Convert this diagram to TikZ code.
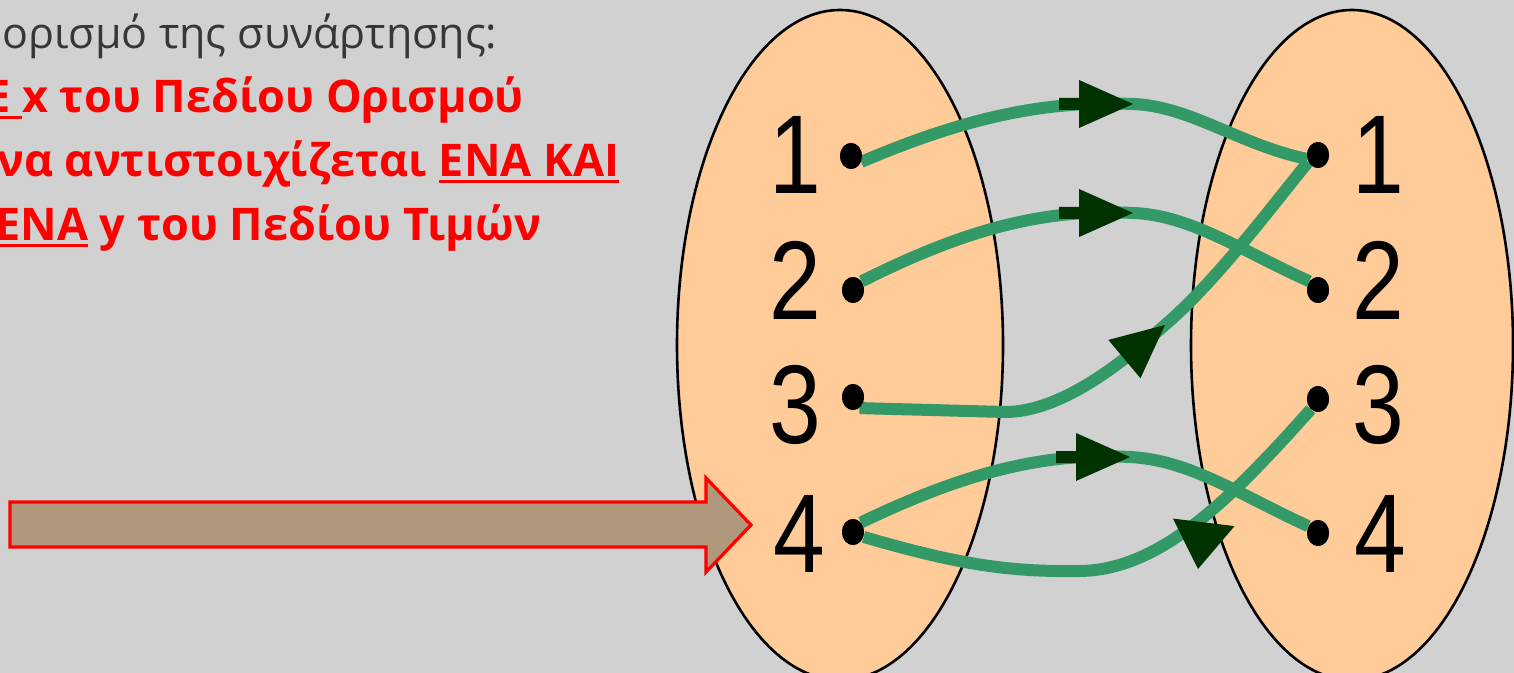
\documentclass[tikz,border=0pt]{standalone}
\usepackage{fontspec}
\usepackage{graphicx}
\setmainfont{Open Sans}
\newfontfamily\digitfont{Liberation Sans}
\usetikzlibrary{shapes.geometric}
\definecolor{bgcol}{RGB}{209,209,209}
\definecolor{peach}{RGB}{255,204,153}
\definecolor{lgreen}{RGB}{51,153,102}
\definecolor{dkgreen}{RGB}{0,51,0}
\definecolor{brownfill}{RGB}{176,152,124}
\definecolor{greytxt}{RGB}{58,54,54}
\definecolor{redtxt}{RGB}{255,0,0}
\newcommand\myul[1]{\setbox0\hbox{#1}\rlap{\color{redtxt}\rule[-2.8pt]{\wd0}{1.1pt}}\box0\relax}
\newcommand\dg[1]{\scalebox{0.83}[1]{#1}}
\tikzset{
  setshape/.style={fill=peach,draw=black,line width=1.3pt},
  dot/.style={ellipse,fill=black,inner sep=0pt,minimum width=11pt,minimum height=13pt},
  lbl/.style={anchor=base,inner sep=0pt,font=\digitfont\fontsize{56}{60}\selectfont},
  conn/.style={draw=lgreen,line width=6pt},
  gtext/.style={anchor=base west,inner sep=0pt,text=greytxt,font=\fontsize{21.5}{24}\selectfont},
  rtext/.style={anchor=base west,inner sep=0pt,text=redtxt,font=\bfseries\fontsize{22.5}{26}\selectfont},
  headh/.pic={\fill[dkgreen] (-37pt,-3pt) -- (-27pt,-3pt) -- (-27pt,-12pt) -- (0pt,0pt) -- (-27pt,12pt) -- (-27pt,3pt) -- (-37pt,3pt) -- cycle;},
  head/.pic={\fill[dkgreen] (-26.5pt,-12.5pt) -- (0pt,0pt) -- (-26.5pt,12.5pt) -- cycle;},
  headw/.pic={\fill[dkgreen] (-23.5pt,-15.5pt) -- (0pt,0pt) -- (-23.5pt,15.5pt) -- cycle;}
}
\begin{document}
\begin{tikzpicture}[x=0.5pt,y=-0.5pt]
\useasboundingbox (0,0) rectangle (1514,673);
\clip (0,0) rectangle (1514,673);
\fill[bgcol] (0,0) rectangle (1514,673);
% the two sets
\draw[setshape] (840,345) ellipse [x radius=81.5pt, y radius=167.5pt];
\draw[setshape] (1352,345) ellipse [x radius=80.5pt, y radius=167.5pt];
% big brown arrow
\draw[fill=brownfill,draw=redtxt,line width=1.6pt]
  (10,502) -- (706,502) -- (706,478) -- (751,525) -- (706,572) -- (706,547) -- (10,547) -- cycle;
% dots
\node[dot] (a1) at (851,156) {};
\node[dot] (a2) at (853,290) {};
\node[dot] (a3) at (853,397) {};
\node[dot] (a4) at (853,532) {};
\node[dot] (b1) at (1318,155) {};
\node[dot] (b2) at (1318,290) {};
\node[dot] (b3) at (1318,399) {};
\node[dot] (b4) at (1318,533) {};
% arrow tip positions
\coordinate (m1) at (1133,104);
\coordinate (m2) at (1133,213);
\coordinate (m3) at (1165,325);
\coordinate (m4) at (1130,457);
\coordinate (m5) at (1198,569);
\coordinate (k3) at (1005,412);
% connectors
\draw[conn] (a1.-30) .. controls (960,120) and (1040,100) .. (m1)
            .. controls (1190,106) and (1240,145) .. (b1.200);
\draw[conn] (a2.45) .. controls (960,232) and (1040,208) .. (m2)
            .. controls (1190,215) and (1240,250) .. (b2.135);
\draw[conn] (a3.-60) -- (k3) .. controls (1060,412) and (1120,365) .. (m3)
            .. controls (1215,282) and (1265,215) .. (b1.215);
\draw[conn] (a4.50) .. controls (960,475) and (1040,452) .. (m4)
            .. controls (1190,460) and (1240,495) .. (b4.145);
\draw[conn] (b3.-125) .. controls (1230,500) and (1160,570) .. (1080,571)
            .. controls (1010,572) and (960,565) .. (a4.-25);
% arrowheads
\pic at (m1) {headh};
\pic at (m2) {headh};
\pic[rotate=40] at (m3) {head};
\pic at (m4) {headh};
\pic[rotate=-97] at (m5) {headw};
% redraw dots on top
\node[dot] at (a1) {};
\node[dot] at (a2) {};
\node[dot] at (a3) {};
\node[dot] at (a4) {};
\node[dot] at (b1) {};
\node[dot] at (b2) {};
\node[dot] at (b3) {};
\node[dot] at (b4) {};
% labels
\node[lbl] (la1) at (795,194) {\dg{1}};
\node[lbl] (la2) at (795,320) {\dg{2}};
\node[lbl] (la3) at (795,443) {\dg{3}};
\node[lbl] (la4) at (799,572) {\dg{4}};
\node[lbl] (lb1) at (1378,194) {\dg{1}};
\node[lbl] (lb2) at (1378,320) {\dg{2}};
\node[lbl] (lb3) at (1378,443) {\dg{3}};
\node[lbl] (lb4) at (1380,572) {\dg{4}};
% text
\node[gtext] (t1) at (2,49) {ορισμό της συνάρτησης:};
\node[rtext] (t2) at (-15,113) {\myul{Ε }x του Πεδίου Ορισμού};
\node[rtext] (t3) at (-3,177) {να αντιστοιχίζεται \myul{ΕΝΑ ΚΑΙ}};
\node[rtext] (t4) at (-5,241) {\myul{ΕΝΑ} y του Πεδίου Τιμών};
\end{tikzpicture}
\end{document}
